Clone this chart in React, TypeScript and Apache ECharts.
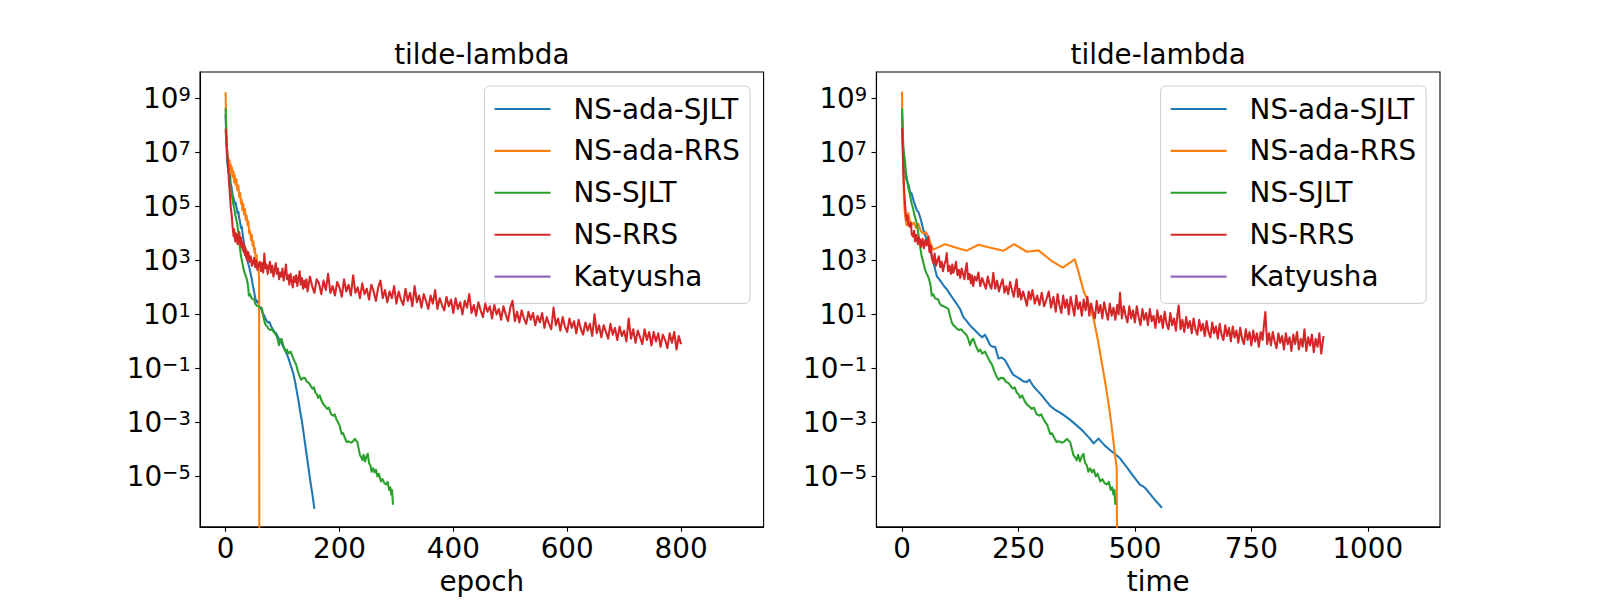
import React, { useEffect, useRef } from "react";
import * as echarts from "echarts";

const FONT = "DejaVu Sans";
const FS = 27.8;

const seriesNames = ["NS-ada-SJLT", "NS-ada-RRS", "NS-SJLT", "NS-RRS", "Katyusha"];
const seriesColors = ["#1f77b4", "#ff7f0e", "#2ca02c", "#d62728", "#9467bd"];
const plotTitles = ["tilde-lambda", "tilde-lambda"];
const xAxisNames = ["epoch", "time"];
const xTicksEpoch = [0, 200, 400, 600, 800];
const xTicksTime = [0, 250, 500, 750, 1000];
const yTickExponents = [-5, -3, -1, 1, 3, 5, 7, 9];

// ---- data: [x, log10(value)] ----
// left plot (epoch)
const adaSjltEpoch = [
  [0, 8.4], [1, 7.6], [2, 7.0], [3, 6.6], [4.5, 6.35], [6, 6.2], [7.7, 6.15], [9, 5.85], [10.5, 5.7], [12, 5.45],
  [14, 5.3], [16, 5.1], [17.5, 5.15], [19.5, 4.93], [21, 4.75], [22.5, 4.8], [24, 4.55], [25.3, 4.44], [27, 4.2],
  [28.5, 4.25], [30, 3.95], [31, 3.83], [32.5, 3.6], [34, 3.45], [35.5, 3.3], [37, 3.15], [38.5, 3.0], [40, 2.86],
  [42, 2.7], [44, 2.5], [46, 2.3], [48, 2.05], [50, 1.85], [51.6, 1.64], [53, 1.55], [55, 1.45], [57, 1.5], [59, 1.3],
  [61, 1.2], [63, 1.25], [65, 1.05], [68, 0.95], [71, 0.8], [74, 0.7], [77, 0.72], [80, 0.55], [83, 0.45], [86, 0.35],
  [89, 0.3], [92, 0.15], [95, 0.05], [98, -0.05], [101, -0.2], [104, -0.3], [107, -0.45], [110, -0.6], [113, -0.8],
  [116, -1.0], [119, -1.2], [122, -1.5], [125, -1.85], [128, -2.2], [131, -2.6], [134, -2.95], [137, -3.4],
  [140, -3.85], [143, -4.3], [146, -4.75], [149, -5.2], [152, -5.6], [154, -5.9], [156, -6.2],
];
const adaRrsEpoch = [
  [0, 9.23], [0.7, 8.3], [1.5, 7.6], [2.5, 7.1], [3.5, 6.85], [4.8, 6.76], [6, 6.4], [7, 6.7], [8, 6.3], [9, 6.55],
  [10, 6.2], [11, 6.45], [12, 6.1], [13.6, 6.3], [15, 5.9], [16, 6.15], [17.5, 5.8], [19, 6.0], [20.5, 5.6],
  [22.4, 5.78], [24, 5.35], [25.5, 5.5], [27, 5.1], [28.2, 5.25], [29.5, 4.85], [31, 5.1], [32.5, 4.7], [34, 4.9],
  [35.5, 4.5], [37, 4.65], [38.5, 4.3], [40, 4.45], [41.5, 4.0], [42.9, 4.1], [44.5, 3.75], [46, 3.95], [47.5, 3.55],
  [49, 3.7], [50.5, 3.3], [51.6, 3.45], [53, 3.0], [54.5, 3.2], [56, 2.7], [57.5, 2.8], [58.8, 2.3], [59.5, -12],
];
const sjltEpoch = [
  [0, 8.63], [1, 7.8], [2, 7.2], [3, 6.95], [4, 6.69], [5, 6.3], [6.4, 6.1], [8.7, 5.7], [10.3, 5.5], [11.5, 5.35],
  [13.3, 5.1], [15.4, 4.9], [17.3, 4.65], [20.3, 4.37], [22.4, 4.0], [24.4, 3.6], [27.1, 3.15], [29.5, 2.9],
  [31.7, 2.66], [34, 2.5], [35.9, 2.4], [38.5, 2.18], [39.7, 2.0], [40.9, 1.69], [42.9, 1.75], [45.5, 1.6],
  [47.8, 1.57], [50, 1.55], [52, 1.4], [54.7, 1.32], [57.7, 1.3], [60.9, 1.25], [63.8, 1.2], [66, 0.95], [68.5, 0.71],
  [70.5, 0.6], [73, 0.55], [75.3, 0.47], [78.2, 0.42], [81.4, 0.45], [84.4, 0.35], [86.5, 0.3], [89.1, 0.22],
  [91.7, 0.05], [93.6, -0.14], [96.2, 0.05], [98.1, 0.1], [101.3, -0.15], [105.1, -0.38], [107.7, -0.3],
  [110.3, -0.45], [114.3, -0.38], [117.3, -0.55], [121.2, -0.75], [123.7, -0.85], [126.9, -1.1], [130.1, -1.3],
  [132.7, -1.42], [135.9, -1.35], [139.7, -1.36], [142.9, -1.5], [146.5, -1.54], [149.4, -1.65], [152.6, -1.75],
  [155.1, -1.7], [158, -1.91], [160.3, -1.95], [162.5, -2.09], [165.4, -2.0], [168.6, -2.2], [171.8, -2.33],
  [175, -2.4], [178.2, -2.5], [181.4, -2.45], [185.3, -2.7], [189.1, -2.75], [191.7, -2.7], [194.6, -2.88],
  [197.4, -3.0], [200, -3.1], [203.8, -3.43], [206.4, -3.4], [209, -3.55], [212.8, -3.73], [215.4, -3.7],
  [217.6, -3.72], [220.5, -3.75], [223.7, -3.7], [226.9, -3.61], [228.8, -3.66], [231.4, -3.73], [234, -4.0],
  [235.9, -4.21], [238.5, -4.3], [240.4, -4.4], [242.3, -4.2], [244.9, -4.45], [247.4, -4.25], [249.7, -4.16],
  [251.9, -4.5], [254.5, -4.6], [256.4, -4.83], [259, -4.7], [261.5, -4.85], [264.1, -4.75], [266.7, -5.0],
  [269.2, -4.9], [272.8, -5.19], [275.6, -5.1], [278.8, -5.25], [282, -5.3], [284.6, -5.2], [287.2, -5.5],
  [289.1, -5.4], [291, -5.67], [292.3, -5.5], [294, -6.05],
];
const rrsEpoch = [
  [0, 7.88], [1, 7.5], [2, 7.3], [3, 6.9], [4, 6.6], [5, 6.3], [6, 5.9], [7, 5.6], [8, 5.3], [9, 5.0], [10, 4.8],
  [11, 4.6], [12, 4.3], [13, 4.1], [14, 3.9], [15, 4.15], [16, 3.85], [17, 3.7], [18, 4.0], [19, 3.75], [20, 3.85],
  [21, 3.6], [22, 3.95], [23, 3.7], [24, 4.05], [25, 3.8], [26, 3.55], [27, 3.85], [28, 3.5], [29, 3.7], [30, 3.4],
  [31, 3.65], [32, 3.3], [33, 3.55], [34, 3.2], [35, 3.45], [36, 3.1], [37, 3.35], [38, 3.0], [40, 3.3], [42, 2.95],
  [44, 3.15], [46, 2.8], [48, 2.9], [50, 3.1], [52, 2.75], [54, 3.0], [56, 2.65], [58, 2.85], [60, 2.95], [62, 2.6],
  [64, 2.9], [66, 2.55], [68, 3.25], [70, 2.7], [72, 2.85], [74, 2.5], [76, 2.75], [78, 2.95], [80, 2.55], [82, 2.8],
  [84, 2.4], [86, 2.65], [88, 2.9], [90, 2.5], [92, 2.7], [94, 2.3], [96, 2.55], [98, 2.4], [100, 2.7], [102, 2.25],
  [104, 2.5], [106, 2.85], [108, 2.3], [110, 2.45], [112, 2.1], [114, 2.5], [116, 2.25], [118, 2.0], [120, 2.4],
  [122, 2.2], [124, 2.45], [126, 2.05], [128, 2.3], [130, 2.6], [132, 2.1], [134, 2.35], [136, 1.95], [138, 2.25],
  [140, 2.0], [142, 2.3], [144, 1.85], [148, 2.4], [152, 2.05], [156, 1.8], [160, 2.3], [164, 2.15], [168, 1.75],
  [172, 2.25], [176, 1.9], [180, 2.5], [184, 1.8], [188, 2.05], [192, 1.7], [196, 2.2], [200, 2.0], [204, 1.65],
  [208, 2.3], [212, 1.85], [216, 2.1], [220, 1.7], [224, 2.45], [228, 1.8], [232, 2.0], [236, 1.6], [240, 2.15],
  [244, 1.75], [248, 1.95], [252, 1.55], [256, 2.1], [260, 1.85], [264, 1.5], [268, 2.0], [272, 2.25], [276, 1.6],
  [280, 1.9], [284, 1.45], [288, 1.85], [292, 1.6], [296, 2.05], [300, 1.4], [304, 1.85], [308, 1.55], [312, 1.35],
  [316, 1.95], [320, 1.5], [324, 1.8], [328, 1.3], [332, 2.05], [336, 1.45], [340, 1.7], [344, 1.25], [348, 1.75],
  [352, 1.5], [356, 1.2], [360, 1.7], [364, 1.4], [368, 1.9], [372, 1.2], [376, 1.6], [380, 1.35], [384, 1.15],
  [388, 1.65], [392, 1.3], [396, 1.55], [400, 1.05], [404, 1.6], [408, 1.2], [412, 1.45], [416, 1.0], [420, 1.5],
  [424, 1.25], [428, 1.75], [432, 1.05], [436, 1.35], [440, 0.95], [444, 1.45], [448, 1.15], [452, 0.9], [456, 1.4],
  [460, 1.1], [464, 1.3], [468, 0.85], [472, 1.35], [476, 1.0], [480, 1.2], [484, 0.8], [488, 1.3], [492, 1.0],
  [496, 0.75], [500, 1.25], [504, 1.5], [508, 0.75], [512, 1.1], [516, 0.7], [520, 1.15], [524, 0.85], [528, 0.65],
  [532, 1.1], [536, 0.8], [540, 1.05], [544, 0.6], [548, 0.95], [552, 0.7], [556, 1.05], [560, 0.5], [564, 0.9],
  [568, 0.65], [572, 0.45], [576, 1.25], [580, 0.6], [584, 0.85], [588, 0.4], [592, 0.9], [596, 0.55], [600, 0.35],
  [604, 0.85], [608, 0.5], [612, 0.75], [616, 0.3], [620, 0.8], [624, 0.45], [628, 0.25], [632, 0.7], [636, 0.4],
  [640, 0.65], [644, 0.2], [648, 1.0], [652, 0.3], [656, 0.6], [660, 0.15], [664, 0.6], [668, 0.35], [672, 0.1],
  [676, 0.65], [680, 0.25], [684, 0.5], [688, 0.05], [692, 0.55], [696, 0.2], [700, 0.4], [704, 0.0], [708, 0.85],
  [712, 0.1], [716, 0.45], [720, -0.05], [724, 0.4], [728, 0.15], [732, -0.1], [736, 0.45], [740, 0.05], [744, 0.35],
  [748, -0.15], [752, 0.35], [756, 0.0], [760, 0.3], [764, -0.2], [768, 0.25], [772, 0.05], [776, -0.25], [780, 0.3],
  [784, -0.05], [788, 0.35], [792, -0.3], [796, 0.2], [800, -0.1],
];
// right plot (time)
const adaSjltTime = [
  [0, 8.4], [1.5, 7.5], [3, 6.8], [5, 6.4], [7, 6.2], [10, 5.95], [14, 5.8], [17, 5.55], [20.8, 5.47], [25, 5.2],
  [28, 5.05], [31.6, 4.86], [35, 4.8], [38.7, 4.61], [42, 4.4], [45.8, 4.13], [50, 3.9], [55, 3.7], [60, 3.4],
  [65, 3.1], [70, 2.75], [74.6, 2.42], [80, 2.3], [85, 2.18], [90, 2.05], [96, 1.93], [103, 1.75], [110, 1.57],
  [117, 1.4], [124.6, 1.2], [131.7, 0.9], [139, 0.75], [146, 0.59], [157, 0.4], [167.6, 0.22], [172, 0.15],
  [178, 0.25], [184, 0.05], [189, -0.14], [195, -0.2], [200, -0.2], [204, -0.45], [207, -0.63], [214, -0.6],
  [221, -0.69], [228.6, -0.93], [234, -1.1], [239, -1.24], [250, -1.35], [260.6, -1.48], [268, -1.5], [273.5, -1.42],
  [282, -1.66], [300, -2.0], [318, -2.39], [330, -2.55], [339.5, -2.64], [357, -2.85], [375, -3.11], [390, -3.35],
  [404, -3.61], [411, -3.78], [416, -3.7], [422, -3.6], [435, -3.85], [447, -4.03], [458, -4.18], [468, -4.33],
  [480, -4.6], [495, -4.95], [511, -5.31], [516, -5.35], [522, -5.43], [535, -5.7], [547, -5.95], [558, -6.16],
];
const adaRrsTime = [
  [0, 9.25], [1, 8.0], [2, 7.0], [2.8, 6.3], [4, 5.5], [5, 5.0], [7, 4.6], [10, 4.3], [13.5, 4.75], [16, 4.5],
  [20, 4.3], [25, 4.4], [30, 4.2], [35, 4.35], [40, 4.1], [46, 4.0], [51, 4.05], [56.5, 3.88], [62, 3.6], [67, 3.4],
  [80, 3.5], [92.4, 3.6], [115, 3.48], [139, 3.36], [164, 3.58], [190, 3.47], [218, 3.36], [241, 3.6], [268, 3.32],
  [293, 3.37], [322, 2.97], [345, 2.73], [371, 3.04], [380, 2.5], [389.6, 1.88], [397, 1.57], [404, 1.2], [411, 0.85],
  [420, 0.1], [429, -0.8], [436, -1.5], [443, -2.26], [449, -3.0], [454, -3.72], [458, -4.3], [461, -4.7],
  [462.5, -12],
];
const sjltTime = [
  [0, 8.63], [1.5, 7.8], [3, 7.2], [4.5, 6.95], [6.4, 6.69], [8, 6.3], [10, 6.1], [13.5, 5.7], [16, 5.5], [18, 5.35],
  [20.8, 5.1], [24, 4.9], [27, 4.65], [31.6, 4.37], [35, 4.0], [38, 3.6], [42.3, 3.15], [46, 2.9], [49.4, 2.66],
  [53, 2.5], [56, 2.4], [60, 2.18], [62, 2.0], [63.8, 1.69], [67, 1.75], [71, 1.6], [74.6, 1.57], [78, 1.55],
  [81, 1.4], [85.3, 1.32], [90, 1.3], [95, 1.25], [99.5, 1.2], [103, 0.95], [106.8, 0.71], [110, 0.6], [114, 0.55],
  [117.5, 0.47], [122, 0.42], [127, 0.45], [131.7, 0.35], [135, 0.3], [139, 0.22], [143, 0.05], [146, -0.14],
  [150, 0.05], [153, 0.1], [158, -0.15], [164, -0.38], [168, -0.3], [172, -0.45], [178.3, -0.38], [183, -0.55],
  [189, -0.75], [193, -0.85], [198, -1.1], [203, -1.3], [207, -1.42], [212, -1.35], [218, -1.36], [223, -1.5],
  [228.6, -1.54], [233, -1.65], [238, -1.75], [242, -1.7], [246.5, -1.91], [250, -1.95], [253.5, -2.09], [258, -2.0],
  [263, -2.2], [268, -2.33], [273, -2.4], [278, -2.5], [283, -2.45], [289, -2.7], [295, -2.75], [299, -2.7],
  [303.6, -2.88], [308, -3.0], [312, -3.1], [318, -3.43], [322, -3.4], [326, -3.55], [332, -3.73], [336, -3.7],
  [339.5, -3.72], [344, -3.75], [349, -3.7], [354, -3.61], [357, -3.66], [361, -3.73], [365, -4.0], [368, -4.21],
  [372, -4.3], [375, -4.4], [378, -4.2], [382, -4.45], [386, -4.25], [389.6, -4.16], [393, -4.5], [397, -4.6],
  [400, -4.83], [404, -4.7], [408, -4.85], [412, -4.75], [416, -5.0], [420, -4.9], [425.5, -5.19], [430, -5.1],
  [435, -5.25], [440, -5.3], [444, -5.2], [448, -5.5], [451, -5.4], [454, -5.67], [456, -5.5], [458, -6.05],
];
const rrsTime = [
  [0, 7.9], [1, 7.4], [2, 6.8], [3, 6.2], [4.5, 5.6], [6.4, 5.1], [8, 4.75], [10, 4.5], [12, 4.65], [14, 4.3],
  [17, 4.25], [19, 4.4], [21, 3.95], [24, 3.88], [26, 4.1], [28, 3.7], [31, 3.95], [34, 3.6], [36, 3.85],
  [38.7, 3.76], [41, 3.5], [44, 3.8], [47, 3.45], [50, 3.75], [53, 3.55], [56.5, 3.88], [59, 3.3], [62, 3.55],
  [64, 3.1], [67, 2.9], [70, 3.25], [73, 2.8], [76, 3.0], [79, 3.15], [82, 2.75], [85, 2.95], [88, 2.6], [91, 2.85],
  [94, 3.0], [96, 3.27], [99, 2.6], [102, 2.8], [105, 2.5], [108, 2.85], [110, 2.54], [113, 2.7], [116, 2.95],
  [119, 2.45], [122, 2.65], [125, 2.35], [128, 2.7], [131, 2.5], [134, 2.3], [136, 2.6], [139, 2.9], [142, 2.3],
  [145, 2.5], [148, 2.15], [150, 2.45], [153, 2.05], [156, 2.4], [160, 2.25], [164, 2.55], [168, 2.05], [172, 2.35],
  [176, 2.15], [180, 1.95], [184, 2.4], [188, 2.1], [192, 1.95], [196, 2.54], [200, 1.95], [204, 2.25], [208, 1.85],
  [212, 2.1], [216, 2.3], [220, 1.8], [224, 2.05], [228, 1.75], [232, 2.2], [236, 1.9], [240, 1.65], [243, 2.0],
  [246, 2.3], [249, 1.65], [252, 1.95], [256, 1.55], [260, 1.85], [264, 1.6], [268, 1.32], [272, 1.85], [276, 1.55],
  [280, 1.9], [285, 1.4], [290, 1.7], [295, 1.35], [300, 1.8], [305, 1.3], [310, 1.55], [315, 1.85], [320, 1.25],
  [325, 1.65], [330, 1.1], [334, 1.75], [338, 1.35], [342, 1.05], [346, 1.7], [350, 1.25], [354, 1.55], [358, 1.0],
  [362, 1.65], [366, 1.3], [370, 0.95], [374, 1.7], [378, 1.2], [382, 1.45], [386, 0.95], [390, 1.55], [394, 1.15],
  [398, 1.65], [402, 0.95], [406, 1.4], [410, 1.1], [414, 0.85], [418, 1.5], [422, 1.05], [426, 1.35], [430, 0.85],
  [434, 1.45], [438, 1.1], [442, 0.8], [446, 1.4], [450, 0.95], [454, 1.25], [458, 0.8], [462, 1.35], [465, 1.0],
  [468, 1.8], [472, 0.85], [476, 1.3], [480, 0.95], [484, 0.7], [488, 1.3], [492, 0.85], [496, 1.15], [500, 0.7],
  [504, 1.3], [508, 0.9], [512, 0.6], [516, 1.2], [520, 0.8], [524, 1.05], [528, 0.6], [532, 1.2], [536, 0.75],
  [540, 0.95], [544, 0.5], [548, 1.15], [552, 0.7], [556, 0.95], [560, 0.5], [564, 1.1], [568, 0.65], [572, 0.45],
  [576, 1.05], [580, 0.6], [584, 0.85], [588, 0.4], [591, 0.95], [594, 1.33], [598, 0.45], [602, 0.8], [606, 0.35],
  [610, 0.9], [614, 0.5], [618, 0.75], [622, 0.3], [626, 0.85], [630, 0.45], [634, 0.25], [638, 0.8], [642, 0.4],
  [646, 0.65], [650, 0.2], [654, 0.75], [658, 0.35], [662, 0.15], [666, 0.7], [670, 0.3], [674, 0.55], [678, 0.1],
  [682, 0.65], [686, 0.25], [690, 0.05], [694, 0.6], [698, 0.2], [702, 0.5], [706, 0.0], [710, 0.55], [714, 0.15],
  [718, 0.4], [722, -0.05], [726, 0.5], [730, 0.1], [734, -0.1], [738, 0.45], [742, 0.05], [746, 0.35], [750, -0.15],
  [754, 0.4], [758, 0.0], [762, 0.3], [766, -0.2], [770, 0.35], [774, 0.05], [777, 0.6], [780, 1.09], [784, -0.1],
  [788, 0.3], [792, -0.15], [796, 0.35], [800, 0.0], [804, -0.25], [808, 0.3], [812, -0.05], [816, 0.2], [820, -0.3],
  [824, 0.3], [828, -0.1], [832, 0.15], [836, -0.35], [840, 0.25], [844, -0.1], [848, 0.35], [852, -0.3], [856, 0.1],
  [860, -0.2], [864, 0.45], [868, -0.35], [872, 0.15], [876, -0.15], [880, 0.25], [884, -0.4], [888, 0.1],
  [892, -0.2], [896, 0.3], [900, -0.45], [905, 0.2],
];
const katyushaEpoch: number[][] = [];
const katyushaTime: number[][] = [];

const toPoints = (arr: number[][]) => arr.map(([x, e]) => [x, Math.pow(10, e)]);

const GRID_TOP = 72;
const GRID_H = 462;
const GRID_W = 563.6;
const GRID_LEFTS = [200, 876.4];

function buildOption() {
  const yTickValues = yTickExponents.map((e) => Math.pow(10, e));
  const leftData = [adaSjltEpoch, adaRrsEpoch, sjltEpoch, rrsEpoch, katyushaEpoch];
  const rightData = [adaSjltTime, adaRrsTime, sjltTime, rrsTime, katyushaTime];

  const tickStyle = { show: true, length: 4.9, lineStyle: { color: "#000", width: 1.1 } };
  const lineStyle = { show: true, onZero: false, lineStyle: { color: "#000", width: 1.1 } };

  const xAxisFor = (idx: number, min: number, max: number, ticks: number[]) => ({
    type: "value",
    gridIndex: idx,
    position: "bottom",
    min,
    max,
    name: xAxisNames[idx],
    nameLocation: "middle",
    nameGap: 39.8,
    nameTextStyle: { fontFamily: FONT, fontSize: FS, color: "#000", lineHeight: 28 },
    axisLine: lineStyle,
    axisTick: { ...tickStyle, customValues: ticks },
    axisLabel: {
      customValues: ticks,
      formatter: (v: number) => String(v),
      fontFamily: FONT,
      fontSize: FS,
      color: "#000",
      margin: 7.3,
      lineHeight: 28,
    },
    splitLine: { show: false },
  });

  const yAxisFor = (idx: number) => ({
    type: "log",
    logBase: 10,
    gridIndex: idx,
    position: "left",
    min: Math.pow(10, -6.866),
    max: Math.pow(10, 9.977),
    axisLine: lineStyle,
    axisTick: { ...tickStyle, customValues: yTickValues },
    axisLabel: {
      customValues: yTickValues,
      margin: 9.2,
      formatter: (v: number) => {
        const e = Math.round(Math.log10(v));
        const s = e < 0 ? "\u2212" + String(-e) : String(e);
        return "{b|10}{s|" + s + "}";
      },
      rich: {
        b: { fontFamily: FONT, fontSize: FS, lineHeight: 28, color: "#000" },
        s: { fontFamily: FONT, fontSize: 19.5, lineHeight: 17, verticalAlign: "top", color: "#000" },
      },
    },
    splitLine: { show: false },
    minorTick: { show: false },
  });

  const series: any[] = [];
  [leftData, rightData].forEach((group, gi) => {
    group.forEach((d, si) => {
      series.push({
        type: "line",
        name: seriesNames[si],
        xAxisIndex: gi,
        yAxisIndex: gi,
        data: toPoints(d),
        showSymbol: false,
        symbol: "none",
        color: seriesColors[si],
        lineStyle: { width: 2.08, color: seriesColors[si], join: "round" },
        emphasis: { disabled: true },
        clip: true,
        z: 2 + si,
      });
    });
  });

  const legendFor = (right: number) => ({
    orient: "vertical",
    right,
    top: 86,
    data: seriesNames,
    icon: "rect",
    itemWidth: 56,
    itemHeight: 2.08,
    itemGap: 13.9,
    padding: [9, 10, 12.8, 10],
    selectedMode: false,
    backgroundColor: "rgba(255,255,255,0.8)",
    borderColor: "#cccccc",
    borderWidth: 1,
    borderRadius: 5,
    formatter: (name: string) => "{g| }" + name,
    textStyle: {
      fontFamily: FONT,
      fontSize: FS,
      color: "#000",
      lineHeight: 28,
      rich: { g: { width: 18, fontFamily: FONT, fontSize: FS, lineHeight: 28 } },
    },
  });

  return {
    animation: false,
    backgroundColor: "#ffffff",
    grid: GRID_LEFTS.map((left) => ({
      left,
      top: GRID_TOP,
      width: GRID_W,
      height: GRID_H,
      show: true,
      borderColor: "#000",
      borderWidth: 1.1,
      backgroundColor: "transparent",
      containLabel: false,
    })),
    xAxis: [xAxisFor(0, -45, 945, xTicksEpoch), xAxisFor(1, -55, 1155, xTicksTime)],
    yAxis: [yAxisFor(0), yAxisFor(1)],
    legend: [legendFor(850), legendFor(173.9)],
    graphic: GRID_LEFTS.map((left, i) => ({
      type: "text",
      x: left + GRID_W / 2,
      y: 68.1,
      style: {
        text: plotTitles[i],
        fontFamily: FONT,
        fontSize: FS,
        fill: "#000",
        textAlign: "center",
        textVerticalAlign: "bottom",
        lineHeight: 28,
      },
    })),
    series,
  };
}

export default function App() {
  const ref = useRef<HTMLDivElement>(null);
  useEffect(() => {
    if (!ref.current) return;
    const chart = echarts.init(ref.current, null, { renderer: "svg" });
    chart.setOption(buildOption() as any);
    return () => chart.dispose();
  }, []);
  return (
    <div
      ref={ref}
      style={{ position: "absolute", left: 0, top: 0, width: 1600, height: 600, background: "#fff" }}
    />
  );
}
